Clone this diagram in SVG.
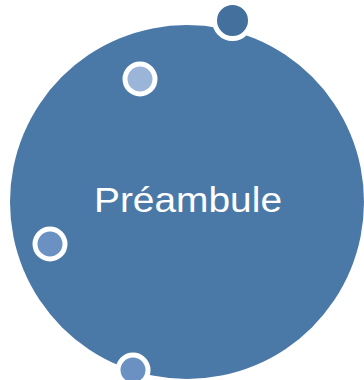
<svg xmlns="http://www.w3.org/2000/svg" width="364" height="380" viewBox="0 0 364 380">
<style>
.dot{stroke:#ffffff;stroke-width:5}
.lbl{font-family:"Liberation Sans",Arial,sans-serif;font-size:34.5px;fill:#ffffff}
</style>
<rect width="364" height="380" fill="#ffffff"/>
<g id="main">
<circle cx="187" cy="202" r="177" fill="#4a79a8"/>
<text class="lbl" x="94" y="212" textLength="188" lengthAdjust="spacingAndGlyphs">Préambule</text>
</g>
<g id="dot1"><circle class="dot" cx="232.5" cy="20.5" r="18" fill="#44709e"/></g>
<g id="dot2"><circle class="dot" cx="140" cy="79" r="15" fill="#9bb5d8"/></g>
<g id="dot3"><circle class="dot" cx="50" cy="244" r="15" fill="#6b91c2"/></g>
<g id="dot4"><circle class="dot" cx="133" cy="370" r="15" fill="#6b91c2"/></g>
</svg>
